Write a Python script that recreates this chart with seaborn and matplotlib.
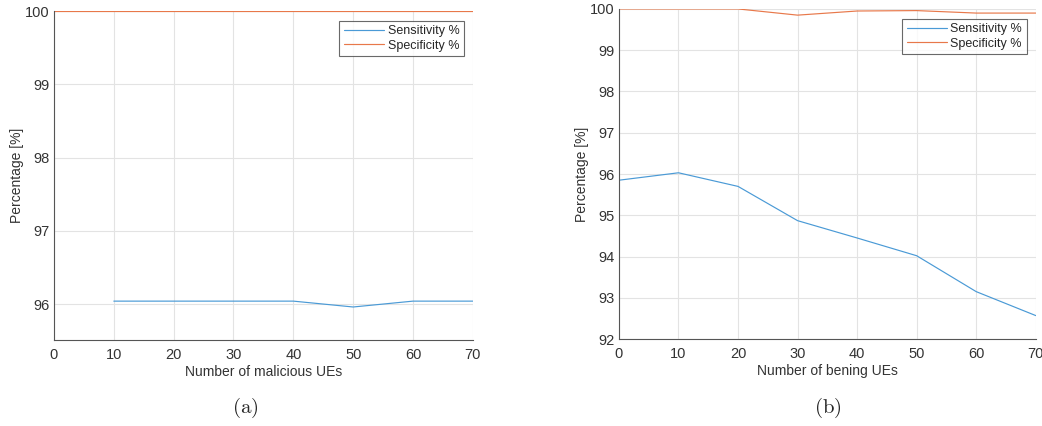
import matplotlib
matplotlib.use("Agg")
import matplotlib.pyplot as plt
import numpy as np
import pandas as pd
import seaborn as sns

# (a) varying number of malicious UEs
mal_ues = [0, 10, 20, 30, 40, 50, 60, 70]
mal_sens = [np.nan, 96.04, 96.04, 96.04, 96.04, 95.96, 96.04, 96.04]
mal_spec = [100, 100, 100, 100, 100, 100, 100, 100]

# (b) varying number of benign UEs
ben_ues = [0, 10, 20, 30, 40, 50, 60, 70]
ben_sens = [95.85, 96.03, 95.70, 94.87, 94.45, 94.02, 93.15, 92.57]
ben_spec = [100, 100, 100, 99.85, 99.95, 99.96, 99.90, 99.90]

blue = "#4a9ad6"
orange = "#e8784a"

sns.set_style("white")
plt.rcParams['font.family'] = ['Liberation Sans', 'DejaVu Sans']
plt.rcParams['mathtext.fontset'] = 'cm'

fig = plt.figure(figsize=(10.42, 4.26), dpi=100)
ax1 = fig.add_axes([0.0518, 0.202, 0.402, 0.772])
ax2 = fig.add_axes([0.594, 0.204, 0.400, 0.775])


def draw(ax, x, sens, spec, xlabel, ylim, yticks):
    df = pd.DataFrame({"x": x, "Sensitivity %": sens, "Specificity %": spec})
    sns.lineplot(data=df, x="x", y="Sensitivity %", ax=ax, color=blue,
                 linewidth=0.85, label="Sensitivity %")
    sns.lineplot(data=df, x="x", y="Specificity %", ax=ax, color=orange,
                 linewidth=0.85, label="Specificity %")
    ax.set_xlim(0, 70)
    ax.set_ylim(*ylim)
    ax.set_xticks(range(0, 71, 10))
    ax.set_yticks(yticks)
    ax.grid(True, color="#e3e3e3", linewidth=0.8)
    ax.set_axisbelow(True)
    for s in ["top", "right"]:
        ax.spines[s].set_visible(False)
    for s in ["left", "bottom"]:
        ax.spines[s].set_color("#555555")
        ax.spines[s].set_linewidth(0.8)
    ax.tick_params(direction="in", length=3, color="#555555",
                   labelsize=10.5, labelcolor="#333333")
    ax.tick_params(axis="y", pad=3)
    ax.tick_params(axis="x", pad=6)
    ax.set_xlabel(xlabel, fontsize=10, color="#333333", labelpad=2)
    ax.set_ylabel("Percentage [%]", fontsize=10, color="#333333", labelpad=1)
    leg = ax.legend(loc="upper right", bbox_to_anchor=(0.978, 0.97),
                    fontsize=9, frameon=True, fancybox=False,
                    handlelength=3.2, handletextpad=0.3,
                    borderpad=0.35, labelspacing=0.2, borderaxespad=0)
    leg.get_frame().set_edgecolor("#444444")
    leg.get_frame().set_linewidth(0.8)


draw(ax1, mal_ues, mal_sens, mal_spec, "Number of malicious UEs",
     (95.51, 100), [96, 97, 98, 99, 100])
draw(ax2, ben_ues, ben_sens, ben_spec, "Number of bening UEs",
     (92, 100), list(range(92, 101)))

fig.text(0.235, 0.03, r"$(\mathrm{a})$", ha="center", fontsize=15)
fig.text(0.794, 0.03, r"$(\mathrm{b})$", ha="center", fontsize=15)

fig.savefig("out.png", dpi=100)
